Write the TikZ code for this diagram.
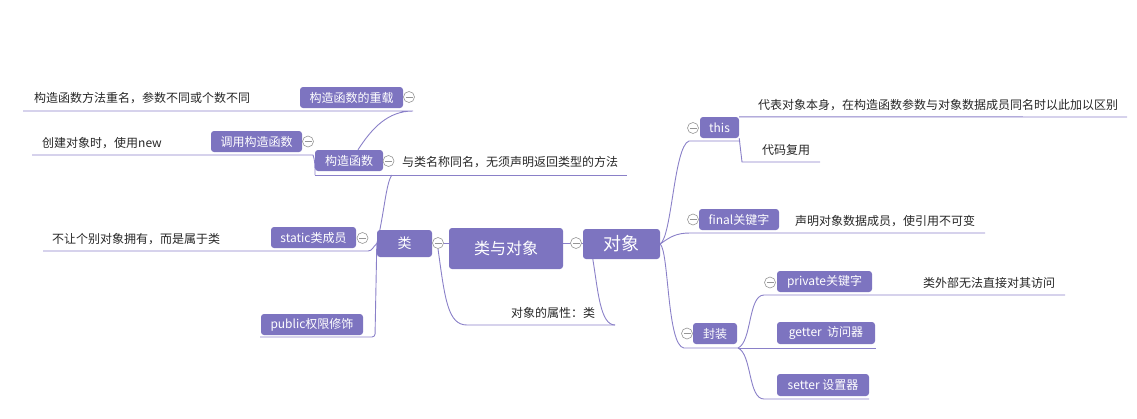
\documentclass[tikz,border=0pt]{standalone}
\usepackage{fontspec}
\setmainfont{Noto Sans CJK SC}
\usetikzlibrary{backgrounds}
\definecolor{topicfill}{RGB}{125,116,192}
\definecolor{branch}{RGB}{138,128,200}
\definecolor{foldgray}{RGB}{150,150,150}
\begin{document}
\begin{tikzpicture}[x=1pt, y=-1pt,
    topic/.style={fill=topicfill, rounded corners=3pt, text=white, inner sep=0pt,
        minimum height=21pt, font=\fontsize{12}{14}\selectfont},
    note/.style={anchor=west, inner sep=0pt, text=black!85, font=\fontsize{12}{14}\selectfont},
    fold/.style={circle, draw=foldgray, fill=white, minimum size=11pt, inner sep=0pt, line width=0.6pt,
        path picture={\draw[foldgray, line width=0.6pt] ([xshift=-3.5pt]path picture bounding box.center)
            -- ([xshift=3.5pt]path picture bounding box.center);}},
    link/.style={draw=branch, line width=0.9pt}]
    \useasboundingbox (0,0) rectangle (1137,418);

    % main topics
    \node[topic, minimum width=114pt, minimum height=41pt, font=\fontsize{16}{18}\selectfont] (core) at (506,248.5) {类与对象};
    \node[topic, minimum width=55pt, minimum height=27pt, font=\fontsize{14}{16}\selectfont] (lei) at (404.5,243.5) {类};
    \node[topic, minimum width=77pt, minimum height=30pt, font=\fontsize{18}{20}\selectfont] (duixiang) at (621.5,244) {对象};

    % left side
    \node[topic, minimum width=103pt] (chongzai) at (351.5,97.5) {构造函数的重载};
    \node[topic, minimum width=91pt] (diaoyong) at (256.5,141.5) {调用构造函数};
    \node[topic, minimum width=68pt] (gouzao) at (349,160.5) {构造函数};
    \node[topic, minimum width=85pt] (jingtai) at (313.5,237.5) {static类成员};
    \node[topic, minimum width=102pt] (gongkai) at (312,324.5) {public权限修饰};

    % right side
    \node[topic, minimum width=39pt] (zhege) at (719.5,127.5) {this};
    \node[topic, minimum width=80pt] (zuizhong) at (739,219.5) {final关键字};
    \node[topic, minimum width=44pt] (fengzhuang) at (715,333.5) {封装};
    \node[topic, minimum width=95pt] (siyou) at (824.5,281.5) {private关键字};
    \node[topic, minimum width=98pt, minimum height=22pt] (huoqu) at (826,333) {getter~~访问器};
    \node[topic, minimum width=92pt, minimum height=22pt] (shezhi) at (823,385) {setter 设置器};

    % notes
    \node[note] (chongzai-t) at (34,98) {构造函数方法重名，参数不同或个数不同};
    \node[note] (diaoyong-t) at (42,143) {创建对象时，使用new};
    \node[note] (gouzao-t) at (402,162) {与类名称同名，无须声明返回类型的方法};
    \node[note] (jingtai-t) at (52,239) {不让个别对象拥有，而是属于类};
    \node[note] (shuxing-t) at (511,313) {对象的属性：类};
    \node[note] (zhege-t1) at (758,105) {代表对象本身，在构造函数参数与对象数据成员同名时以此加以区别};
    \node[note] (zhege-t2) at (762,150) {代码复用};
    \node[note] (zuizhong-t) at (795,221) {声明对象数据成员，使引用不可变};
    \node[note] (siyou-t) at (923,283) {类外部无法直接对其访问};

    % fold marks
    \node[fold] (chongzai-f) at (409,97) {};
    \node[fold] (diaoyong-f) at (308,141.5) {};
    \node[fold] (gouzao-f) at (388.5,161) {};
    \node[fold] (jingtai-f) at (362.5,238) {};
    \node[fold] (lei-f) at (438,243) {};
    \node[fold] (duixiang-f) at (576,243) {};
    \node[fold] (zhege-f) at (693,128) {};
    \node[fold] (zuizhong-f) at (693,219.5) {};
    \node[fold] (fengzhuang-f) at (687,333.5) {};
    \node[fold] (siyou-f) at (770,282.5) {};

    % underline ends
    \coordinate (cz-l) at (23,111);   \coordinate (cz-r) at (413,111);
    \coordinate (dy-l) at (32,155);   \coordinate (dy-r) at (313,155);
    \coordinate (gz-l) at (315,175);  \coordinate (gz-m) at (392,175);  \coordinate (gz-r) at (627,175);
    \coordinate (jt-l) at (43,251);   \coordinate (jt-r) at (368,251);
    \coordinate (gk-l) at (260,337);  \coordinate (gk-r) at (375,337);
    \coordinate (sx-l) at (467,325);  \coordinate (sx-r) at (615,325);
    \coordinate (zg-l) at (689,141);  \coordinate (zg-r) at (740,141);
    \coordinate (db-r) at (1127,117);
    \coordinate (fy-l) at (742,162);  \coordinate (fy-r) at (820,162);
    \coordinate (zz-l) at (690,233);  \coordinate (zz-r) at (985,233);
    \coordinate (fz-l) at (684,348);  \coordinate (fz-r) at (738,348);
    \coordinate (sy-l) at (764,295);  \coordinate (sy-r) at (1065,295);
    \coordinate (hq-r) at (876,348);
    \coordinate (sz-l) at (764,399);  \coordinate (sz-r) at (869,399);

    \begin{scope}[on background layer]
    \draw[link] (lei-f.center) -- (lei-f.center -| core.west);
    \draw[link] (core.east |- duixiang-f) -- (duixiang.west |- duixiang-f);

    % class branch
    \draw[link] (lei.west) .. controls (384,215) and (386,182) .. (gz-m);
    \draw[link] (gz-l) -- (gz-r);
    \draw[link] ([xshift=9pt]gouzao.north) .. controls (372,128) and (388,111) .. (cz-r) -- (cz-l);
    \draw[link] (gz-l) .. controls (315,166) and (315,160) .. (dy-r) -- (dy-l);
    \draw[link] (lei.west) .. controls (373,247) and (372,251) .. (jt-r) -- (jt-l);
    \draw[link, rounded corners=3pt] (lei.west) -- (gk-r) -- (gk-l);
    \draw[link] (lei-f.south) .. controls (445,300) and (448,325) .. (sx-l) -- (sx-r);
    \draw[link] ([xshift=10pt]duixiang.south west) .. controls (598,290) and (600,325) .. (sx-r);

    % object branch
    \draw[link] (duixiang.east) .. controls (672,236) and (674,146) .. (zg-l) -- (zg-r);
    \draw[link] (zhege.north east) -- (db-r);
    \draw[link] (zhege.south east) -- (fy-l) -- (fy-r);
    \draw[link] (duixiang.east) .. controls (670,237) and (676,233) .. (zz-l) -- (zz-r);
    \draw[link] (duixiang.east) .. controls (669,252) and (667,346) .. (fz-l) -- (fz-r);
    \draw[link] (fz-r) .. controls (752,342) and (748,295) .. (sy-l) -- (sy-r);
    \draw[link] (fz-r) -- (hq-r);
    \draw[link] (fz-r) .. controls (752,354) and (748,399) .. (sz-l) -- (sz-r);
    \end{scope}
\end{tikzpicture}
\end{document}
